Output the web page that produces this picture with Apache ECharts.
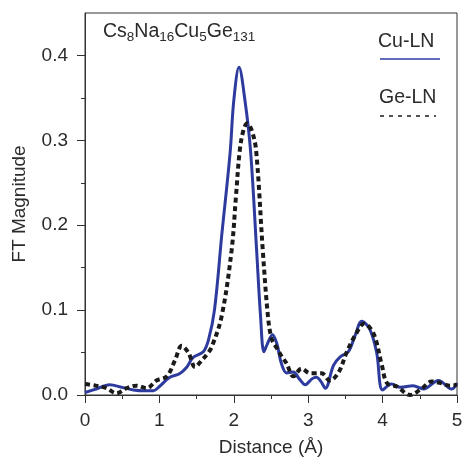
<!DOCTYPE html>
<html>
<head>
<meta charset="utf-8">
<script src="https://cdn.jsdelivr.net/npm/echarts@6/dist/echarts.min.js"></script>
<style>html,body{margin:0;padding:0;background:#fff}#c{width:462px;height:457px}</style>
</head>
<body>
<div id="c"></div>
<script>
// Data
const xTicks = [0, 1, 2, 3, 4, 5];
const yTicks = [0, 0.1, 0.2, 0.3, 0.4];
const yMinorTicks = [0.05, 0.15, 0.25, 0.35];

const cuDistance = [0,0.15,0.33,0.5,0.65,0.8,0.92,1.0,1.14,1.27,1.37,1.45,1.59,1.66,1.74,1.84,1.95,2.0,2.07,2.15,2.225,2.307,2.36,2.405,2.45,2.52,2.58,2.64,2.71,2.80,2.88,2.96,3.05,3.11,3.17,3.23,3.34,3.43,3.54,3.63,3.72,3.83,3.92,4.00,4.12,4.24,4.41,4.55,4.75,4.93,5.0];
const cuMagnitude = [0.003,0.007,0.012,0.009,0.006,0.005,0.005,0.010,0.021,0.025,0.033,0.044,0.051,0.065,0.100,0.19,0.285,0.347,0.386,0.347,0.288,0.17,0.092,0.051,0.06,0.071,0.060,0.037,0.026,0.027,0.019,0.012,0.019,0.021,0.016,0.008,0.035,0.045,0.051,0.07,0.087,0.077,0.050,0.006,0.013,0.009,0.011,0.007,0.017,0.007,0.014];

const geDistance = [0,0.15,0.29,0.42,0.56,0.69,0.83,0.96,1.10,1.21,1.30,1.39,1.48,1.57,1.64,1.70,1.835,1.97,2.03,2.08,2.13,2.18,2.24,2.30,2.39,2.46,2.51,2.58,2.64,2.71,2.80,2.91,3.03,3.18,3.29,3.41,3.52,3.63,3.75,3.88,3.99,4.06,4.19,4.37,4.53,4.66,4.78,4.91,5.0];
const geMagnitude = [0.013,0.011,0.008,0.002,0.008,0.011,0.008,0.017,0.022,0.041,0.058,0.050,0.033,0.041,0.048,0.056,0.092,0.17,0.235,0.288,0.312,0.32,0.312,0.288,0.17,0.092,0.066,0.055,0.046,0.037,0.022,0.031,0.0255,0.0255,0.017,0.027,0.051,0.07,0.084,0.072,0.035,0.014,0.010,0.0,0.008,0.016,0.014,0.011,0.012];

const seriesNames = ['Cu-LN', 'Ge-LN'];

const cuData = cuDistance.map((d, i) => [d, cuMagnitude[i]]);
const geData = geDistance.map((d, i) => [d, geMagnitude[i]]);

const FONT = 'Liberation Sans, Arial, sans-serif';
const TXT = '#2b2b2b';
const BLUE = '#2d3a9e';

const chart = echarts.init(document.getElementById('c'), null, {renderer: 'canvas'});
chart.setOption({
  animation: false,
  backgroundColor: '#fff',
  grid: {left: 85, right: 5, top: 13, bottom: 62, show: true, borderColor: '#333', borderWidth: 1,
    backgroundColor: 'transparent', outerBoundsMode: 'none', containLabel: false},
  xAxis: {
    type: 'value', min: 0, max: 5, interval: 1,
    name: 'Distance (Å)', nameLocation: 'middle', nameGap: 43,
    nameTextStyle: {fontFamily: FONT, fontSize: 19, color: TXT},
    axisLine: {show: true, lineStyle: {color: '#333', width: 1}},
    axisTick: {show: true, length: 8, lineStyle: {color: '#333'}},
    minorTick: {show: true, splitNumber: 2, length: 4, lineStyle: {color: '#333'}},
    axisLabel: {fontFamily: FONT, fontSize: 19, color: TXT, margin: 16},
    splitLine: {show: false}
  },
  yAxis: [{
    type: 'value', min: 0, max: 0.45,
    name: 'FT Magnitude', nameLocation: 'middle', nameGap: 56,
    nameTextStyle: {fontFamily: FONT, fontSize: 19, color: TXT},
    axisLine: {show: true, lineStyle: {color: '#333', width: 1}},
    axisTick: {show: true, length: 8, lineStyle: {color: '#333'}, customValues: yTicks},
    axisLabel: {fontFamily: FONT, fontSize: 19, color: TXT, margin: 17, customValues: yTicks,
      formatter: v => v.toFixed(1)},
    splitLine: {show: false}
  }, {
    type: 'value', min: 0, max: 0.45, position: 'left',
    axisLine: {show: false},
    axisTick: {show: true, length: 4, lineStyle: {color: '#333'}, customValues: yMinorTicks},
    axisLabel: {show: false, customValues: yMinorTicks},
    splitLine: {show: false}
  }],
  series: [{
    name: seriesNames[0], type: 'line', data: cuData, smooth: 0.35, showSymbol: false,
    lineStyle: {color: BLUE, width: 3}, z: 3
  }, {
    name: seriesNames[1], type: 'line', data: geData, smooth: 0.35, showSymbol: false,
    lineStyle: {color: '#1a1a1a', width: 4, type: [5, 3.5]}, z: 4
  }],
  graphic: [
    {type: 'text', left: 103, top: 22, style: {
      text: '{n|Cs}{s|8}{n|Na}{s|16}{n|Cu}{s|5}{n|Ge}{s|131}',
      rich: {
        n: {fontFamily: FONT, fontSize: 19.5, fill: TXT, lineHeight: 24, verticalAlign: 'middle'},
        s: {fontFamily: FONT, fontSize: 13.5, fill: TXT, lineHeight: 14, verticalAlign: 'bottom'}
      }}},
    {type: 'text', left: 378, top: 32, style: {text: seriesNames[0], fontFamily: FONT, fontSize: 19.5, fill: TXT}},
    {type: 'line', shape: {x1: 380, y1: 59, x2: 440, y2: 59}, style: {stroke: BLUE, lineWidth: 1.5}},
    {type: 'text', left: 379, top: 88, style: {text: seriesNames[1], fontFamily: FONT, fontSize: 19.5, fill: TXT}},
    {type: 'line', shape: {x1: 380, y1: 116, x2: 436, y2: 116}, style: {stroke: '#1a1a1a', lineWidth: 1.5, lineDash: [4, 5]}}
  ]
});
</script>
</body>
</html>
